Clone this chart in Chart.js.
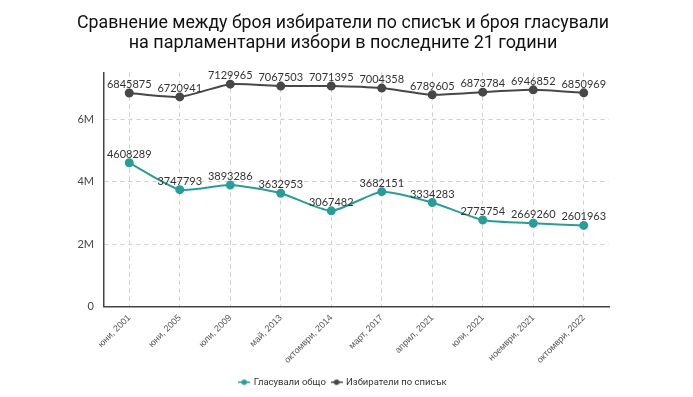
<!DOCTYPE html>
<html>
<head>
<meta charset="utf-8">
<script src="https://cdn.jsdelivr.net/npm/chart.js@4/dist/chart.umd.min.js"></script>
<style>
  html, body { margin: 0; padding: 0; background: #fff; }
  #wrap { width: 693px; height: 397px; }
</style>
</head>
<body>
<div id="wrap"><canvas id="electionChart"></canvas></div>
<script>
const labels = ["юни, 2001", "юни, 2005", "юли, 2009", "май, 2013", "октомври, 2014",
  "март, 2017", "април, 2021", "юли, 2021", "ноември, 2021", "октомври, 2022"];
const voted = [4608289, 3747793, 3893286, 3632953, 3067482, 3682151, 3334283, 2775754, 2669260, 2601963];
const registered = [6845875, 6720941, 7129965, 7067503, 7071395, 7004358, 6789605, 6873784, 6946852, 6850969];
const yTicks = [0, 2000000, 4000000, 6000000];

const TEAL = "#2a9d99";
const DARK = "#474747";

// small line+dot marker for the legend
function legendMarker(color) {
  var c = document.createElement("canvas");
  c.width = 12; c.height = 8;
  var g = c.getContext("2d");
  g.strokeStyle = color; g.lineWidth = 1.5;
  g.beginPath(); g.moveTo(0, 4); g.lineTo(12, 4); g.stroke();
  g.fillStyle = color;
  g.beginPath(); g.arc(6, 4, 2.8, 0, Math.PI * 2); g.fill();
  return c;
}

// values printed above each point
const valueLabels = {
  id: "valueLabels",
  afterDatasetsDraw(chart) {
    const ctx = chart.ctx;
    ctx.save();
    ctx.font = "11px Lato";
    ctx.fillStyle = "#333";
    ctx.textAlign = "center";
    ctx.textBaseline = "alphabetic";
    chart.data.datasets.forEach((ds, i) => {
      chart.getDatasetMeta(i).data.forEach((pt, j) => {
        ctx.fillText(String(ds.data[j]), pt.x, pt.y - 5);
      });
    });
    ctx.restore();
  }
};

const ctx = document.getElementById("electionChart").getContext("2d");
new Chart(ctx, {
  type: "line",
  data: {
    labels: labels,
    datasets: [
      {
        label: "Гласували общо",
        data: voted,
        borderColor: TEAL,
        backgroundColor: TEAL,
        borderWidth: 2,
        pointRadius: 3.5,
        tension: 0.2
      },
      {
        label: "Избиратели по списък",
        data: registered,
        borderColor: DARK,
        backgroundColor: DARK,
        borderWidth: 2,
        pointRadius: 3.5,
        tension: 0.2
      }
    ]
  },
  options: {
    responsive: true,
    maintainAspectRatio: false,
    animation: false,
    layout: { padding: { left: 77, right: 84, top: 10, bottom: 0 } },
    plugins: {
      title: {
        display: true,
        text: ["Сравнение между броя избиратели по списък и броя гласували",
               "на парламентарни избори в последните 21 години"],
        color: "#111",
        font: { family: "Roboto", size: 18, weight: "normal", lineHeight: 1.1 },
        padding: { top: 4, bottom: 19 }
      },
      legend: {
        position: "bottom",
        labels: {
          usePointStyle: true,
          color: "#333",
          font: { family: "Roboto", size: 9.5 },
          padding: 6,
          generateLabels(chart) {
            const items = Chart.defaults.plugins.legend.labels.generateLabels(chart);
            items.forEach(it => {
              it.pointStyle = legendMarker(chart.data.datasets[it.datasetIndex].borderColor);
            });
            return items;
          }
        }
      },
      tooltip: { enabled: false }
    },
    scales: {
      x: {
        offset: true,
        afterFit(scale) {
          // let the first rotated label hang past the y axis, like the original
          scale.paddingLeft = 0;
        },
        grid: { color: "#cfcfcf", drawTicks: false, offset: false },
        border: { display: true, color: "#444", width: 1.5, dash: [4, 4] },
        ticks: {
          color: "#555",
          font: { family: "Liberation Sans", size: 9 },
          maxRotation: 45,
          minRotation: 45,
          padding: 6
        }
      },
      y: {
        min: 0,
        max: 7500000,
        afterBuildTicks(scale) {
          scale.ticks = yTicks.map(v => ({ value: v }));
        },
        afterFit(scale) {
          scale.width = 27;
        },
        grid: { color: "#cfcfcf", drawTicks: false },
        border: { display: true, color: "#444", width: 1.5, dash: [4, 4] },
        ticks: {
          color: "#444",
          font: { family: "Lato", size: 11 },
          padding: 10,
          callback: v => v === 0 ? "0" : (v / 1000000) + "M"
        }
      }
    }
  },
  plugins: [valueLabels]
});
</script>
</body>
</html>
